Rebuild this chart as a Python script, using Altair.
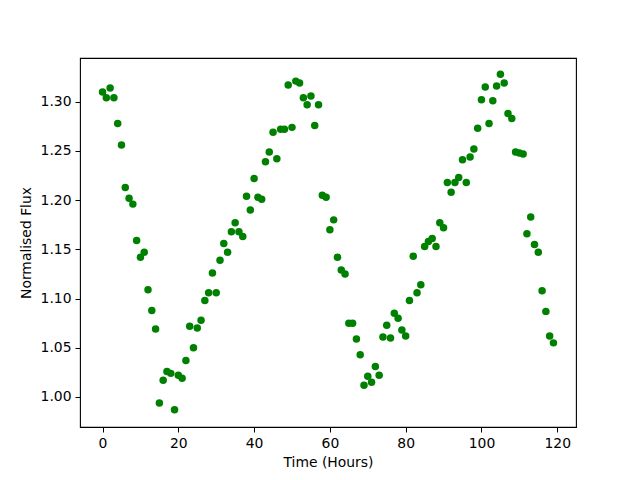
import altair as alt
import pandas as pd

hours = list(range(120))
flux = [
    1.310, 1.304, 1.314, 1.304, 1.278, 1.256, 1.213, 1.202, 1.196, 1.159,
    1.142, 1.147, 1.109, 1.088, 1.069, 0.994, 1.017, 1.026, 1.024, 0.987,
    1.022, 1.019, 1.037, 1.072, 1.050, 1.070, 1.078, 1.098, 1.106, 1.126,
    1.106, 1.139, 1.156, 1.147, 1.168, 1.177, 1.168, 1.163, 1.204, 1.190,
    1.222, 1.203, 1.201, 1.239, 1.249, 1.269, 1.242, 1.272, 1.272, 1.317,
    1.274, 1.321, 1.319, 1.304, 1.297, 1.306, 1.276, 1.297, 1.205, 1.203,
    1.170, 1.180, 1.142, 1.129, 1.125, 1.075, 1.075, 1.059, 1.043, 1.012,
    1.021, 1.015, 1.031, 1.022, 1.061, 1.073, 1.060, 1.085, 1.080, 1.068,
    1.062, 1.098, 1.143, 1.106, 1.114, 1.153, 1.158, 1.161, 1.153, 1.177,
    1.172, 1.218, 1.208, 1.218, 1.223, 1.241, 1.218, 1.244, 1.252, 1.273,
    1.302, 1.315, 1.278, 1.301, 1.316, 1.328, 1.319, 1.288, 1.283, 1.249,
    1.248, 1.247, 1.166, 1.183, 1.155, 1.147, 1.108, 1.087, 1.062, 1.055,
]
x_ticks = [0, 20, 40, 60, 80, 100, 120]
y_ticks = [1.00, 1.05, 1.10, 1.15, 1.20, 1.25, 1.30]

df = pd.DataFrame({"Time": hours, "Flux": flux})

FONT = "DejaVu Sans"
FS = 13.9

chart = (
    alt.Chart(df)
    .mark_circle(color="#008000", opacity=1, size=56)
    .encode(
        x=alt.X(
            "Time:Q",
            scale=alt.Scale(domain=[-5.95, 124.95], nice=False, zero=False),
            axis=alt.Axis(
                title="Time (Hours)",
                values=x_ticks,
                format="d",
                grid=False,
                domain=False,
                tickColor="black",
                tickSize=5,
                tickWidth=1,
                labelPadding=4,
                titlePadding=6,
                labelColor="black",
                titleColor="black",
                labelFont=FONT,
                titleFont=FONT,
                labelFontSize=FS,
                titleFontSize=FS,
                titleFontWeight="normal",
            ),
        ),
        y=alt.Y(
            "Flux:Q",
            scale=alt.Scale(domain=[0.9695, 1.3445], nice=False, zero=False),
            axis=alt.Axis(
                title="Normalised Flux",
                values=y_ticks,
                format=".2f",
                grid=False,
                domain=False,
                tickColor="black",
                tickSize=5,
                tickWidth=1,
                labelPadding=4,
                titlePadding=7,
                labelColor="black",
                titleColor="black",
                labelFont=FONT,
                titleFont=FONT,
                labelFontSize=FS,
                titleFontSize=FS,
                titleFontWeight="normal",
            ),
        ),
    )
    .properties(
        width=496,
        height=369,
        autosize=alt.AutoSizeParams(type="none"),
        padding={"left": 72, "top": 50, "right": 56, "bottom": 45},
        background="white",
    )
    .configure_view(stroke="black", strokeWidth=1.1)
)

chart.save("out.html", embed_options={"renderer": "svg", "actions": False})
